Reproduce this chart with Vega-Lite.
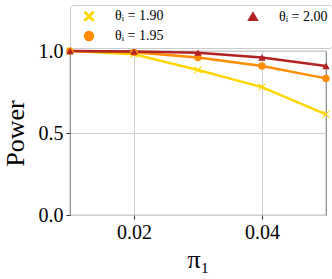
{
  "$schema": "https://vega.github.io/schema/vega-lite/v6.json",
  "width": 256,
  "height": 164,
  "autosize": {"type": "none"},
  "padding": {"left": 70, "top": 51, "right": 6, "bottom": 64},
  "config": {
    "view": {"stroke": "#888", "strokeWidth": 1.2},
    "font": "Liberation Serif",
    "axis": {
      "labelFont": "Liberation Serif",
      "titleFont": "Liberation Serif",
      "labelFontSize": 20,
      "titleFontSize": 26,
      "titleFontWeight": "normal",
      "labelColor": "#000",
      "titleColor": "#000",
      "tickColor": "#333",
      "tickSize": 4,
      "domain": false,
      "gridColor": "#d0d0d0",
      "gridWidth": 1
    }
  },
  "data": {
    "values": [
      {"theta": "1.90", "pi": 0.01, "power": 1.0},
      {"theta": "1.90", "pi": 0.02, "power": 0.98},
      {"theta": "1.90", "pi": 0.03, "power": 0.884},
      {"theta": "1.90", "pi": 0.04, "power": 0.78},
      {"theta": "1.90", "pi": 0.05, "power": 0.614},
      {"theta": "1.95", "pi": 0.01, "power": 1.0},
      {"theta": "1.95", "pi": 0.02, "power": 0.993},
      {"theta": "1.95", "pi": 0.03, "power": 0.96},
      {"theta": "1.95", "pi": 0.04, "power": 0.909},
      {"theta": "1.95", "pi": 0.05, "power": 0.833},
      {"theta": "2.00", "pi": 0.01, "power": 1.0},
      {"theta": "2.00", "pi": 0.02, "power": 0.997},
      {"theta": "2.00", "pi": 0.03, "power": 0.99},
      {"theta": "2.00", "pi": 0.04, "power": 0.96},
      {"theta": "2.00", "pi": 0.05, "power": 0.909}
    ]
  },
  "encoding": {
    "x": {
      "field": "pi", "type": "quantitative",
      "scale": {"domain": [0.01, 0.05], "nice": false, "zero": false},
      "axis": {"values": [0.02, 0.04], "format": ".2f", "title": "π₁", "labelPadding": 3, "titlePadding": 4}
    },
    "y": {
      "field": "power", "type": "quantitative",
      "scale": {"domain": [0, 1], "nice": false},
      "axis": {"values": [0, 0.5, 1], "format": ".1f", "title": "Power", "labelPadding": 3, "titlePadding": 10}
    },
    "color": {
      "field": "theta", "type": "nominal",
      "scale": {"domain": ["1.90", "1.95", "2.00"], "range": ["#FFD700", "#FF8C00", "#B22222"]},
      "legend": {
        "title": null,
        "orient": "none",
        "legendX": 0,
        "legendY": -46,
        "direction": "horizontal",
        "columns": 2,
        "values": ["1.90", "2.00", "1.95"],
        "labelExpr": "'θᵢ = ' + datum.label",
        "labelFont": "Liberation Serif",
        "labelFontSize": 14,
        "labelColor": "#000",
        "symbolSize": 80,
        "symbolOffset": 8,
        "labelOffset": 19,
        "padding": 4,
        "rowPadding": 4,
        "columnPadding": 74,
        "strokeColor": "#ccc",
        "fillColor": "rgba(255,255,255,0.85)",
        "cornerRadius": 3
      }
    }
  },
  "layer": [
    {
      "mark": {"type": "line", "strokeWidth": 2.5}
    },
    {
      "mark": {"type": "point", "filled": true, "opacity": 1, "size": 55},
      "encoding": {
        "shape": {
          "field": "theta", "type": "nominal",
          "legend": null,
          "scale": {"domain": ["1.90", "1.95", "2.00"], "range": ["M-1,-0.8L-0.8,-1L0,-0.2L0.8,-1L1,-0.8L0.2,0L1,0.8L0.8,1L0,0.2L-0.8,1L-1,0.8L-0.2,0Z", "circle", "triangle-up"]}
        }
      }
    }
  ]
}
